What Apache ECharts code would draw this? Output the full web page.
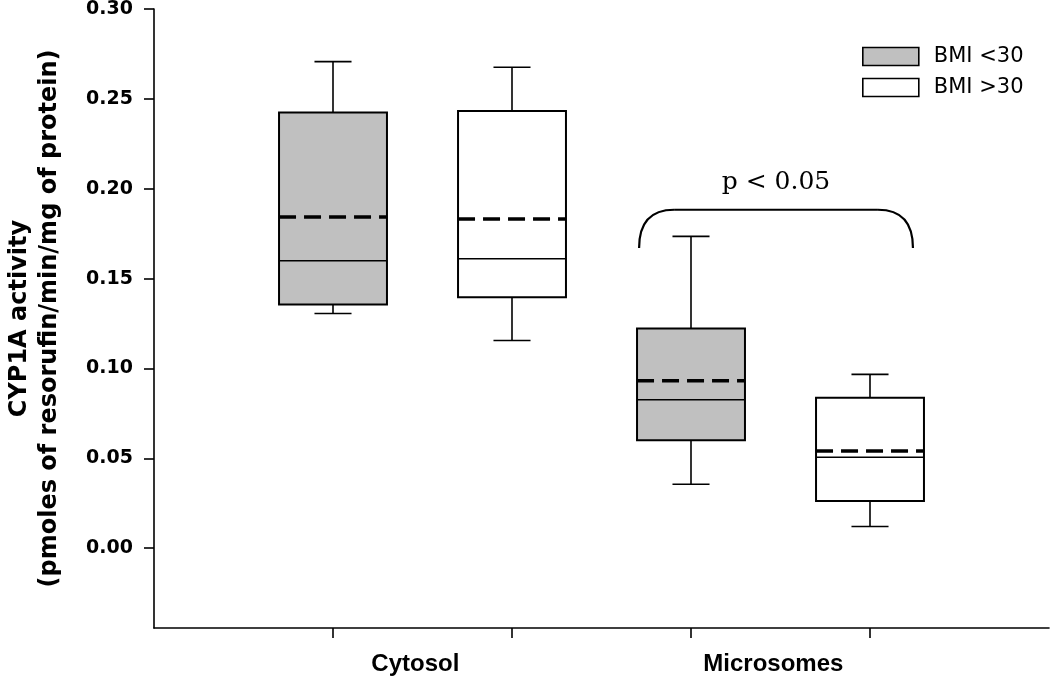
<!DOCTYPE html>
<html>
<head>
<meta charset="utf-8">
<script src="https://cdn.jsdelivr.net/npm/echarts@6/dist/echarts.min.js"></script>
<style>
html,body{margin:0;padding:0;background:#fff;}
#chart{width:1050px;height:679px;}
</style>
</head>
<body>
<div id="chart"></div>
<script>
// ---- data ----
const categories = ['Cytosol', 'Microsomes'];
const groups = ['BMI <30', 'BMI >30'];
// per category: lower whisker, Q1, median, Q3, upper whisker, mean
const bmiUnder30Low    = [0.1306, 0.0356];
const bmiUnder30Q1     = [0.1356, 0.0600];
const bmiUnder30Median = [0.1600, 0.0826];
const bmiUnder30Q3     = [0.2424, 0.1222];
const bmiUnder30High   = [0.2707, 0.1735];
const bmiUnder30Mean   = [0.1843, 0.0932];

const bmiOver30Low    = [0.1156, 0.0121];
const bmiOver30Q1     = [0.1396, 0.0263];
const bmiOver30Median = [0.1611, 0.0506];
const bmiOver30Q3     = [0.2433, 0.0837];
const bmiOver30High   = [0.2676, 0.0967];
const bmiOver30Mean   = [0.1832, 0.0541];

const yTickValues = [0, 0.05, 0.10, 0.15, 0.20, 0.25, 0.30];
const significanceText = 'p < 0.05';

// ---- build ----
const groupStats = [
  [bmiUnder30Low, bmiUnder30Q1, bmiUnder30Median, bmiUnder30Q3, bmiUnder30High, bmiUnder30Mean],
  [bmiOver30Low, bmiOver30Q1, bmiOver30Median, bmiOver30Q3, bmiOver30High, bmiOver30Mean]
];
const fills = ['#c0c0c0', '#ffffff'];

function seriesData(g) {
  const s = groupStats[g];
  return categories.map((c, ci) => [1 + 2 * ci + g, s[0][ci], s[1][ci], s[2][ci], s[3][ci], s[4][ci], s[5][ci]]);
}

const BOX_W = 0.603, CAP_W = 0.207;

function renderBox(params, api) {
  const x = api.value(0);
  const pLo = api.coord([x, api.value(1)]);
  const pQ1 = api.coord([x, api.value(2)]);
  const pMed = api.coord([x, api.value(3)]);
  const pQ3 = api.coord([x, api.value(4)]);
  const pHi = api.coord([x, api.value(5)]);
  const pMean = api.coord([x, api.value(6)]);
  const hw = api.size([BOX_W, 0])[0] / 2;
  const cw = api.size([CAP_W, 0])[0] / 2;
  const cx = pQ1[0];
  const fill = fills[params.seriesIndex];
  const ls = { stroke: '#000', lineWidth: 1.6 };
  return {
    type: 'group',
    children: [
      { type: 'line', shape: { x1: cx, y1: pQ3[1], x2: cx, y2: pHi[1] }, style: ls },
      { type: 'line', shape: { x1: cx - cw, y1: pHi[1], x2: cx + cw, y2: pHi[1] }, style: ls },
      { type: 'line', shape: { x1: cx, y1: pQ1[1], x2: cx, y2: pLo[1] }, style: ls },
      { type: 'line', shape: { x1: cx - cw, y1: pLo[1], x2: cx + cw, y2: pLo[1] }, style: ls },
      { type: 'rect', shape: { x: cx - hw, y: pQ3[1], width: 2 * hw, height: pQ1[1] - pQ3[1] },
        style: { fill: fill, stroke: '#000', lineWidth: 2 } },
      { type: 'line', shape: { x1: cx - hw, y1: pMed[1], x2: cx + hw, y2: pMed[1] }, style: { stroke: '#000', lineWidth: 1.5 } },
      { type: 'line', shape: { x1: cx - hw, y1: pMean[1], x2: cx + hw, y2: pMean[1] },
        style: { stroke: '#000', lineWidth: 3.6, lineDash: [17, 8] } }
    ]
  };
}

// significance bracket over the Microsomes group (data coordinates)
const bracketData = [[2.71, 4.24, 0.1883, 0.1670, 0.2035]];
function renderBracket(params, api) {
  const l = api.coord([api.value(0), api.value(2)]);
  const r = api.coord([api.value(1), api.value(2)]);
  const lb = api.coord([api.value(0), api.value(3)]);
  const t = api.coord([(api.value(0) + api.value(1)) / 2, api.value(4)]);
  const rad = 35;
  const st = { stroke: '#000', lineWidth: 2.2, fill: null };
  return {
    type: 'group',
    children: [
      { type: 'bezierCurve', shape: { x1: l[0], y1: lb[1], x2: l[0] + rad, y2: l[1], cpx1: l[0], cpy1: l[1] }, style: st },
      { type: 'line', shape: { x1: l[0] + rad, y1: l[1], x2: r[0] - rad, y2: r[1] }, style: st },
      { type: 'bezierCurve', shape: { x1: r[0] - rad, y1: r[1], x2: r[0], y2: lb[1], cpx1: r[0], cpy1: r[1] }, style: st },
      { type: 'text', x: t[0], y: t[1], style: { text: significanceText, fontFamily: 'DejaVu Serif', fontSize: 25, fill: '#000', align: 'center', verticalAlign: 'middle' } }
    ]
  };
}

const chart = echarts.init(document.getElementById('chart'), null, { renderer: 'canvas' });
chart.setOption({
  animation: false,
  backgroundColor: '#fff',
  grid: { left: 154, right: 1, top: 9, bottom: 51, containLabel: false, outerBoundsMode: 'none' },
  legend: {
    orient: 'vertical', left: 862, top: 46, padding: 0,
    itemWidth: 56, itemHeight: 18, itemGap: 10,
    textStyle: { fontFamily: 'DejaVu Sans', fontSize: 21, color: '#000', padding: [0, 0, 0, 10], lineHeight: 19 },
    data: groups.map((g, i) => ({ name: g, icon: 'rect', itemStyle: { color: fills[i], borderColor: '#000', borderWidth: 1.6 } }))
  },
  xAxis: {
    type: 'value', min: 0, max: 5,
    splitLine: { show: false },
    axisLine: { show: true, onZero: false, lineStyle: { color: '#000', width: 1.6 } },
    axisTick: { show: true, inside: false, length: 10, customValues: [1, 2, 3, 4], lineStyle: { color: '#000', width: 1.6 } },
    axisLabel: {
      customValues: categories.map((c, i) => 1.46 + 2 * i),
      formatter: v => categories[Math.round((v - 1.46) / 2)],
      fontFamily: 'Liberation Sans', fontWeight: 'bold', fontSize: 24, color: '#000', margin: 24
    }
  },
  yAxis: {
    type: 'value', min: -0.0444, max: 0.30,
    splitLine: { show: false },
    axisLine: { show: true, onZero: false, lineStyle: { color: '#000', width: 1.6 } },
    axisTick: { show: true, inside: false, length: 10, customValues: yTickValues, lineStyle: { color: '#000', width: 1.6 } },
    axisLabel: {
      customValues: yTickValues,
      formatter: v => v.toFixed(2),
      fontFamily: 'DejaVu Sans', fontWeight: 'bold', fontSize: 19, color: '#000', margin: 21
    },
    name: 'CYP1A activity\n(pmoles of resorufin/min/mg of protein)',
    nameLocation: 'middle', nameRotate: 90, nameGap: 89,
    nameTextStyle: { fontFamily: 'DejaVu Sans', fontWeight: 'bold', fontSize: 24, lineHeight: 30, color: '#000' }
  },
  series: [
    { name: groups[0], type: 'custom', renderItem: renderBox, data: seriesData(0), encode: { x: 0, y: [1, 2, 3, 4, 5, 6] }, itemStyle: { color: fills[0] } },
    { name: groups[1], type: 'custom', renderItem: renderBox, data: seriesData(1), encode: { x: 0, y: [1, 2, 3, 4, 5, 6] }, itemStyle: { color: fills[1] } },
    { name: 'sig', type: 'custom', renderItem: renderBracket, data: bracketData, encode: { x: [0, 1], y: [2, 3, 4] }, silent: true }
  ]
});
</script>
</body>
</html>
